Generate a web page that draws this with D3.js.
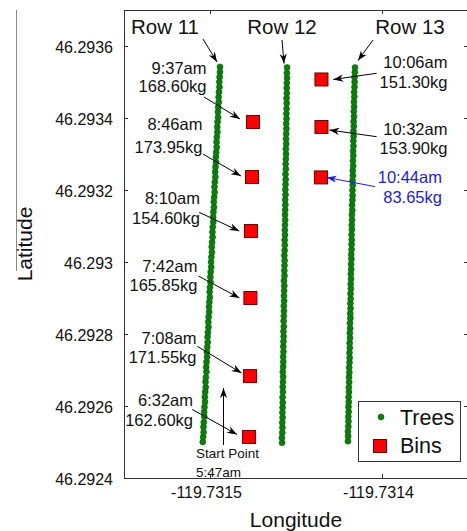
<!DOCTYPE html>
<meta charset="utf-8">
<title>Bin locations along rows 11-13</title>
<style>
body {
  margin: 0;
  background: #fff;
}
text {
  font-family: "Liberation Sans", Arial, sans-serif;
  fill: #111;
}
</style>
<body>
<div id="chart"></div>
<script src="https://d3js.org/d3.v7.min.js"></script>
<script>
// ---- data ----

// tree positions, one pair of arrays per row (lon, lat)
const row11Lon = [-119.7315042, -119.731504, -119.7315037, -119.7315038, -119.7315036, -119.7315033, -119.7315034, -119.7315032, -119.7315029, -119.731503,
  -119.7315028, -119.7315025, -119.7315026, -119.7315024, -119.7315021, -119.7315022, -119.731502, -119.7315017, -119.7315018, -119.7315016,
  -119.7315013, -119.7315014, -119.7315012, -119.7315009, -119.731501, -119.7315008, -119.7315005, -119.7315006, -119.7315004, -119.7315001,
  -119.7315002, -119.7315, -119.7314997, -119.7314998, -119.7314996, -119.7314993, -119.7314994, -119.7314992, -119.7314989, -119.731499,
  -119.7314988, -119.7314985, -119.7314986, -119.7314984, -119.7314981, -119.7314982, -119.731498, -119.7314977, -119.7314978, -119.7314976,
  -119.7314973, -119.7314974, -119.7314972, -119.7314969, -119.731497, -119.7314968, -119.7314965, -119.7314966, -119.7314964, -119.7314961,
  -119.7314962, -119.731496, -119.7314957, -119.7314958, -119.7314956, -119.7314953, -119.7314954, -119.7314952, -119.7314949, -119.731495,
  -119.7314948, -119.7314945, -119.7314946, -119.7314944, -119.7314942, -119.7314942];
const row11Lat = [46.2925, 46.292514, 46.292527, 46.292542, 46.292555, 46.29257, 46.292583, 46.292597, 46.292611, 46.292625,
  46.292639, 46.292652, 46.292667, 46.29268, 46.292695, 46.292708, 46.292722, 46.292736, 46.29275, 46.292764,
  46.292777, 46.292792, 46.292805, 46.292819, 46.292833, 46.292847, 46.292861, 46.292875, 46.292889, 46.292902,
  46.292917, 46.29293, 46.292944, 46.292958, 46.292972, 46.292986, 46.293, 46.293014, 46.293027, 46.293042,
  46.293055, 46.293069, 46.293083, 46.293097, 46.293111, 46.293125, 46.293139, 46.293152, 46.293167, 46.29318,
  46.293194, 46.293208, 46.293222, 46.293236, 46.29325, 46.293264, 46.293277, 46.293292, 46.293305, 46.293319,
  46.293333, 46.293347, 46.293361, 46.293375, 46.293389, 46.293402, 46.293417, 46.29343, 46.293444, 46.293458,
  46.293472, 46.293486, 46.2935, 46.293514, 46.293528, 46.293542];

const row12Lon = [-119.7314581, -119.7314582, -119.731458, -119.7314579, -119.731458, -119.7314578, -119.7314579, -119.7314578, -119.7314577, -119.7314578,
  -119.7314576, -119.7314577, -119.7314576, -119.7314575, -119.7314577, -119.7314575, -119.7314574, -119.7314575, -119.7314573, -119.7314574,
  -119.7314573, -119.7314572, -119.7314573, -119.7314571, -119.7314572, -119.7314571, -119.731457, -119.7314571, -119.7314569, -119.731457,
  -119.7314569, -119.7314568, -119.731457, -119.7314567, -119.7314568, -119.7314567, -119.7314566, -119.7314568, -119.7314566, -119.7314565,
  -119.7314566, -119.7314564, -119.7314565, -119.7314564, -119.7314563, -119.7314564, -119.7314563, -119.7314562, -119.7314563, -119.7314561,
  -119.7314562, -119.7314561, -119.731456, -119.7314561, -119.7314559, -119.731456, -119.7314559, -119.7314558, -119.7314559, -119.7314557,
  -119.7314558, -119.7314557, -119.7314556, -119.7314557, -119.7314555, -119.7314556, -119.7314555, -119.7314554, -119.7314555, -119.7314553,
  -119.7314554, -119.7314553, -119.7314552, -119.7314553, -119.7314552];
const row12Lat = [46.292498, 46.292512, 46.292526, 46.29254, 46.292554, 46.292568, 46.292582, 46.292596, 46.29261, 46.292624,
  46.292639, 46.292653, 46.292667, 46.292681, 46.292695, 46.292709, 46.292723, 46.292737, 46.292751, 46.292765,
  46.292779, 46.292793, 46.292807, 46.292821, 46.292836, 46.29285, 46.292864, 46.292878, 46.292892, 46.292906,
  46.29292, 46.292934, 46.292948, 46.292962, 46.292976, 46.29299, 46.293004, 46.293018, 46.293032, 46.293047,
  46.293061, 46.293075, 46.293089, 46.293103, 46.293117, 46.293131, 46.293145, 46.293159, 46.293173, 46.293187,
  46.293201, 46.293215, 46.293229, 46.293244, 46.293258, 46.293272, 46.293286, 46.2933, 46.293314, 46.293328,
  46.293342, 46.293356, 46.29337, 46.293384, 46.293398, 46.293412, 46.293426, 46.293441, 46.293455, 46.293469,
  46.293483, 46.293497, 46.293511, 46.293525, 46.29354];

const row13Lon = [-119.7314198, -119.7314197, -119.7314198, -119.7314196, -119.7314195, -119.7314196, -119.7314194, -119.7314195, -119.7314193, -119.7314194,
  -119.7314192, -119.7314193, -119.7314191, -119.7314192, -119.731419, -119.7314191, -119.7314189, -119.7314188, -119.7314189, -119.7314187,
  -119.7314188, -119.7314186, -119.7314187, -119.7314185, -119.7314186, -119.7314184, -119.7314185, -119.7314183, -119.7314184, -119.7314182,
  -119.7314183, -119.7314181, -119.7314182, -119.731418, -119.7314181, -119.7314179, -119.731418, -119.7314178, -119.7314179, -119.7314177,
  -119.7314177, -119.7314176, -119.7314177, -119.7314175, -119.7314176, -119.7314174, -119.7314175, -119.7314173, -119.7314174, -119.7314172,
  -119.7314171, -119.7314172, -119.731417, -119.7314171, -119.7314169, -119.731417, -119.7314168, -119.7314169, -119.7314167, -119.7314168,
  -119.7314166, -119.7314167, -119.7314165, -119.7314166, -119.7314164, -119.7314165, -119.7314163, -119.7314164, -119.7314162, -119.7314163,
  -119.7314161, -119.7314162, -119.731416, -119.7314159, -119.731416, -119.7314158, -119.7314157];
const row13Lat = [46.292502, 46.292516, 46.292529, 46.292543, 46.292557, 46.29257, 46.292584, 46.292598, 46.292611, 46.292625,
  46.292639, 46.292652, 46.292666, 46.29268, 46.292693, 46.292707, 46.292721, 46.292734, 46.292748, 46.292762,
  46.292775, 46.292789, 46.292803, 46.292816, 46.29283, 46.292844, 46.292857, 46.292871, 46.292885, 46.292898,
  46.292912, 46.292926, 46.292939, 46.292953, 46.292967, 46.29298, 46.292994, 46.293008, 46.293021, 46.293035,
  46.293049, 46.293062, 46.293076, 46.29309, 46.293103, 46.293117, 46.293131, 46.293144, 46.293158, 46.293172,
  46.293185, 46.293199, 46.293213, 46.293226, 46.29324, 46.293254, 46.293267, 46.293281, 46.293295, 46.293308,
  46.293322, 46.293336, 46.293349, 46.293363, 46.293377, 46.29339, 46.293404, 46.293418, 46.293431, 46.293445,
  46.293459, 46.293472, 46.293486, 46.2935, 46.293513, 46.293527, 46.29354];

const rowNames = ["Row 11", "Row 12", "Row 13"];

// bins, in the order they were dropped
const binTime = ["6:32am", "7:08am", "7:42am", "8:10am", "8:46am", "9:37am", "10:06am", "10:32am", "10:44am"];
const binKg = ["162.60kg", "171.55kg", "165.85kg", "154.60kg", "173.95kg", "168.60kg", "151.30kg", "153.90kg", "83.65kg"];
const binLon = [-119.7314773, -119.7314767, -119.7314765, -119.7314762, -119.7314756, -119.731475, -119.7314352, -119.7314352, -119.7314355];
const binLat = [46.292514, 46.292683, 46.2929, 46.293086, 46.293236, 46.293389, 46.293507, 46.293375, 46.293235];

const xTicks = [-119.7315, -119.7314];
const xTickLabels = ["-119.7315", "-119.7314"];
const yTicks = [46.2924, 46.2926, 46.2928, 46.293, 46.2932, 46.2934, 46.2936];
const yTickLabels = ["46.2924", "46.2926", "46.2928", "46.293", "46.2932", "46.2934", "46.2936"];

// ---- layout ----
const width = 467;
const height = 531;
const plot = {left: 124, right: 468, top: 10, bottom: 478};

const svg = d3.select("#chart")
  .append("svg")
    .attr("width", width)
    .attr("height", height);

const x = d3.scaleLinear()
    .domain([-119.73155, -119.73135])
    .range([plot.left, plot.right]);

const y = d3.scaleLinear()
    .domain([46.2924, 46.2937])
    .range([plot.bottom, plot.top]);

// arrow heads
const defs = svg.append("defs");
[["headK", "#000"], ["headB", "#1c1cdc"]].forEach(([id, c]) => {
  defs.append("marker")
      .attr("id", id)
      .attr("viewBox", "-10 -5 11 10")
      .attr("refX", 0)
      .attr("refY", 0)
      .attr("markerWidth", 11)
      .attr("markerHeight", 10)
      .attr("markerUnits", "userSpaceOnUse")
      .attr("orient", "auto")
    .append("path")
      .attr("d", "M0,0L-10,-3.6L-7,0L-10,3.6Z")
      .attr("fill", c);
});

function arrow(x1, y1, x2, y2, col, head) {
  svg.append("line")
      .attr("x1", x1).attr("y1", y1)
      .attr("x2", x2).attr("y2", y2)
      .attr("stroke", col)
      .attr("stroke-width", 1)
      .attr("marker-end", `url(#${head})`);
}

// stray rule at the far left of the figure
svg.append("line")
    .attr("x1", 16.5).attr("x2", 16.5)
    .attr("y1", 10).attr("y2", 271)
    .attr("stroke", "#8a8a8a");

// axes - matlab style, ticks pointing inward on all four sides
const axisFont = 16;

const gx = svg.append("g")
    .attr("transform", `translate(0,${plot.bottom})`)
    .call(d3.axisBottom(x).tickValues(xTicks)
      .tickFormat((d, i) => xTickLabels[i])
      .tickSize(-4).tickPadding(9));
gx.selectAll("text").attr("dx", -4);

const gy = svg.append("g")
    .attr("transform", `translate(${plot.left},0)`)
    .call(d3.axisLeft(y).tickValues(yTicks)
      .tickFormat((d, i) => yTickLabels[i])
      .tickSize(-4).tickPadding(11));
gy.selectAll("text").attr("dy", "0.38em");

svg.append("g")
    .attr("transform", `translate(0,${plot.top})`)
    .call(d3.axisTop(x).tickValues(xTicks).tickFormat("").tickSize(-4));

svg.append("g")
    .attr("transform", `translate(${plot.right},0)`)
    .call(d3.axisRight(y).tickValues(yTicks).tickFormat("").tickSize(-4));

svg.selectAll(".domain").remove();
svg.selectAll(".tick line").attr("stroke", "#333");
svg.selectAll(".tick text")
    .attr("font-size", axisFont)
    .attr("font-family", "'Liberation Sans', Arial, sans-serif")
    .attr("fill", "#111");

// frame
svg.append("rect")
    .attr("x", plot.left + 0.5)
    .attr("y", plot.top + 0.5)
    .attr("width", plot.right - plot.left)
    .attr("height", plot.bottom - plot.top)
    .attr("fill", "none")
    .attr("stroke", "#333");

// axis titles
svg.append("text")
    .attr("transform", `translate(32,244) rotate(-90)`)
    .attr("text-anchor", "middle")
    .attr("font-size", 21)
    .text("Latitude");

svg.append("text")
    .attr("x", 296)
    .attr("y", 527)
    .attr("text-anchor", "middle")
    .attr("font-size", 21)
    .text("Longitude");

// trees
const rows = [[row11Lon, row11Lat], [row12Lon, row12Lat], [row13Lon, row13Lat]];
rows.forEach(([lons, lats]) => {
  svg.append("g")
    .selectAll("circle")
    .data(lats)
    .join("circle")
      .attr("cx", (d, i) => x(lons[i]))
      .attr("cy", d => y(d))
      .attr("r", 3)
      .attr("fill", "#0a800a")
      .attr("stroke", "#076207")
      .attr("stroke-width", 0.6);
});

// row labels, each with an arrow to the first tree of its row
const rowLabelX = [165, 282, 410];
const rowTail = [[203, 39], [282, 40], [373, 40]];
const rowHead = [[-3, -5], [-3, -4], [3, -7]];
rows.forEach(([lons, lats], r) => {
  const top = lats.length - 1;
  svg.append("text")
      .attr("x", rowLabelX[r])
      .attr("y", 34)
      .attr("text-anchor", "middle")
      .attr("font-size", 20.5)
      .text(rowNames[r]);
  arrow(rowTail[r][0], rowTail[r][1],
        x(lons[top]) + rowHead[r][0], y(lats[top]) + rowHead[r][1], "#000", "headK");
});

// bins
const binSize = 13;
svg.append("g")
  .selectAll("rect")
  .data(binLat)
  .join("rect")
    .attr("x", (d, i) => x(binLon[i]) - binSize / 2)
    .attr("y", d => y(d) - binSize / 2)
    .attr("width", binSize)
    .attr("height", binSize)
    .attr("fill", "#ff0000")
    .attr("stroke", "#6a0000")
    .attr("stroke-width", 1);

// labels for the bins: text right edge, two baselines, arrow tail and head,
// all in px from the bin centre
const noteLayout = [
  {tx: -56, y1: -30.5, y2: -11, ax: -56.8, ay: -27.5, hx: -12, hy: -2.5},
  {tx: -53.5, y1: -32.5, y2: -13, ax: -52.7, ay: -29.8, hx: -8.5, hy: -3},
  {tx: -53, y1: -26.3, y2: -7.3, ax: -52, ay: -22, hx: -11, hy: 0},
  {tx: -51, y1: -26.7, y2: -7, ax: -51.7, ay: -18.7, hx: -11.7, hy: 0},
  {tx: -49.5, y1: -47, y2: -24.3, ax: -49, ay: -23, hx: -11, hy: -1},
  {tx: -46.5, y1: -47.5, y2: -30, ax: -49, ay: -25, hx: -13, hy: -3},
  {tx: 126, y1: -11.5, y2: 8.5, ax: 55.2, ay: -6.2, hx: 11.8, hy: 0},
  {tx: 126, y1: 8, y2: 27, ax: 55.2, ay: 9.7, hx: 7.8, hy: 3},
  {tx: 121, y1: 5.8, y2: 25.8, ax: 54, ay: 9.2, hx: 5.7, hy: 0}
];

binTime.forEach((t, i) => {
  const bx = x(binLon[i]);
  const by = y(binLat[i]);
  const L = noteLayout[i];
  const col = binKg[i] === "83.65kg" ? "#1c1cdc" : "#111";
  const g = svg.append("g")
      .attr("font-size", 16.5)
      .attr("text-anchor", "end");
  g.append("text").attr("x", bx + L.tx).attr("y", by + L.y1).style("fill", col).text(t);
  g.append("text").attr("x", bx + L.tx).attr("y", by + L.y2).style("fill", col).text(binKg[i]);
  arrow(bx + L.ax, by + L.ay, bx + L.hx, by + L.hy,
        col === "#111" ? "#000" : col, col === "#111" ? "headK" : "headB");
});

// start point
arrow(223.5, 445, 223.5, 388, "#000", "headK");
svg.append("text")
    .attr("x", 196)
    .attr("y", 458)
    .attr("font-size", 13.5)
    .text("Start Point");
svg.append("text")
    .attr("x", 196)
    .attr("y", 476.5)
    .attr("font-size", 13.5)
    .text("5:47am");

// legend
const legend = svg.append("g");
legend.append("rect")
    .attr("x", 358.5)
    .attr("y", 401.5)
    .attr("width", 102)
    .attr("height", 60)
    .attr("fill", "#fff")
    .attr("stroke", "#333");
legend.append("circle")
    .attr("cx", 381)
    .attr("cy", 417)
    .attr("r", 3)
    .attr("fill", "#0a800a")
    .attr("stroke", "#076207")
    .attr("stroke-width", 0.6);
legend.append("rect")
    .attr("x", 373.5)
    .attr("y", 439.5)
    .attr("width", 13)
    .attr("height", 13)
    .attr("fill", "#ff0000")
    .attr("stroke", "#6a0000");
legend.append("text")
    .attr("x", 400)
    .attr("y", 424.5)
    .attr("font-size", 21.5)
    .text("Trees");
legend.append("text")
    .attr("x", 400)
    .attr("y", 452.5)
    .attr("font-size", 21.5)
    .text("Bins");
</script>
</body>
</html>
